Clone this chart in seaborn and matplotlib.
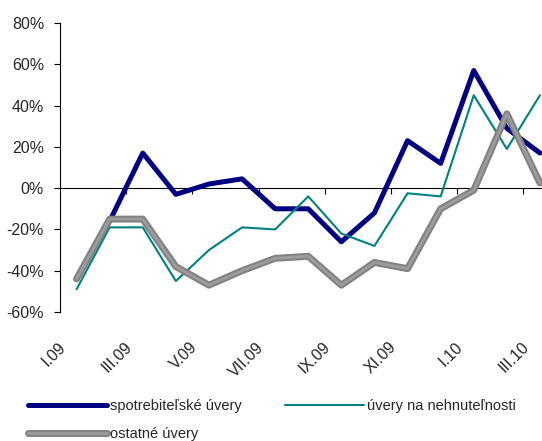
import numpy as np
import pandas as pd
import matplotlib
matplotlib.use("Agg")
import matplotlib.pyplot as plt
import matplotlib.patheffects as pe
import seaborn as sns

# monthly data, I.09 - III.10
months = ["I.09", "II.09", "III.09", "IV.09", "V.09", "VI.09", "VII.09", "VIII.09",
          "IX.09", "X.09", "XI.09", "XII.09", "I.10", "II.10", "III.10"]
spotrebitelske = [-44, -16, 17, -3, 2, 4.5, -10, -10, -26, -12, 23, 12, 57, 29, 17]
nehnutelnosti = [-49, -19, -19, -45, -30, -19, -20, -4, -22, -28, -2.5, -4, 45, 19, 45]
ostatne = [-44, -15, -15, -38, -47, -40, -34, -33, -47, -36, -39, -10, -1, 36, 2.5]
tick_labels = ["I.09", "III.09", "V.09", "VII.09", "IX.09", "XI.09", "I.10", "III.10"]

df = pd.DataFrame({"pos": np.arange(len(months)), "month": months,
                   "spot": spotrebitelske, "nehn": nehnutelnosti, "ost": ostatne})

sns.set_style("white")
plt.rcParams["font.family"] = ["Liberation Sans", "DejaVu Sans"]

fig = plt.figure(figsize=(5.42, 4.41), dpi=100)
ax = fig.add_axes([60 / 542, 1 - 312 / 441, 1 - 60 / 542, (312 - 23) / 441])

sns.lineplot(data=df, x="pos", y="spot", ax=ax, color="#000080", linewidth=3.6,
             label="spotrebiteľské úvery")
sns.lineplot(data=df, x="pos", y="nehn", ax=ax, color="#008080", linewidth=1.5,
             label="úvery na nehnuteľnosti")
# hatched grey line: grey body with a slightly lighter core
sns.lineplot(data=df, x="pos", y="ost", ax=ax, color="#828282", linewidth=5,
             label="ostatné úvery",
             path_effects=[pe.Normal(), pe.Stroke(linewidth=2, foreground="#9c9c9c")])

ax.set_xlim(-0.5, -0.5 + 482 / 33.1)
ax.set_ylim(-60, 80)
ax.set_xlabel("")
ax.set_ylabel("")

ax.set_yticks(range(-60, 81, 20))
ax.set_yticklabels([f"{v}%" for v in range(-60, 81, 20)], fontsize=11.5)
ax.tick_params(axis="y", direction="out", length=4.5, width=0.8, color="#000000", pad=7, left=True)

for s in ["top", "right"]:
    ax.spines[s].set_visible(False)
ax.spines["left"].set_color("#000000")
ax.spines["left"].set_linewidth(0.8)
ax.spines["bottom"].set_position(("data", 0))
ax.spines["bottom"].set_color("#000000")
ax.spines["bottom"].set_linewidth(0.8)
ax.spines["bottom"].set_zorder(0.5)

ax.set_xticks(np.arange(1.5, len(months), 2))
ax.set_xticklabels([])
ax.tick_params(axis="x", direction="out", length=4.5, width=0.8, color="#000000", bottom=True)

trans = ax.get_xaxis_transform()
for i, lab in enumerate(tick_labels):
    ax.text(2 * i - 0.25, -0.095, lab, transform=trans, rotation=45,
            ha="right", va="top", fontsize=11.5)

handles, labels = ax.get_legend_handles_labels()
ax.get_legend().remove()
order = [0, 2, 1]
fig.legend([handles[i] for i in order], [labels[i] for i in order], ncol=2,
           loc="upper left", bbox_to_anchor=(28 / 542, 1 - 399 / 441), frameon=False,
           fontsize=10.5, handlelength=5.4, handletextpad=0.2, columnspacing=3.0,
           labelspacing=0.95, borderpad=0, borderaxespad=0)

fig.savefig("out.png", dpi=100)
